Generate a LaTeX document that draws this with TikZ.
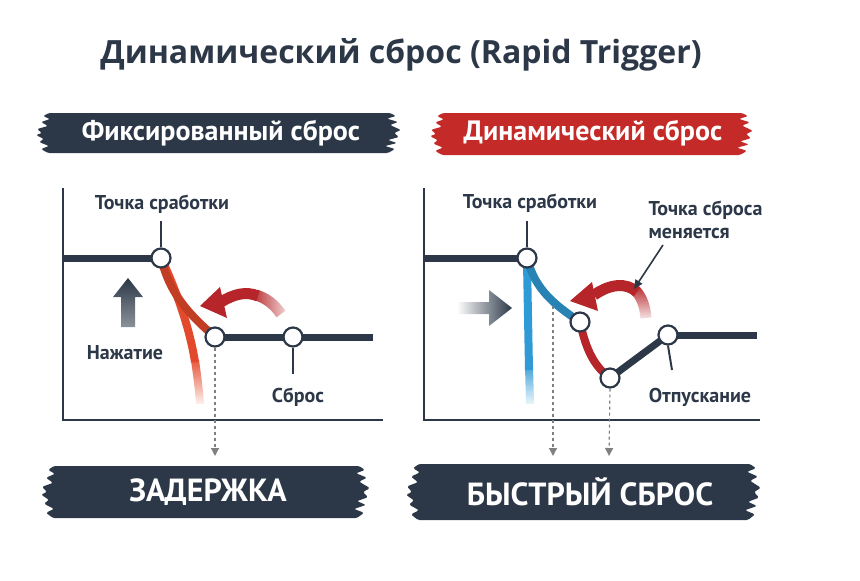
\documentclass[tikz,border=0pt]{standalone}
\usepackage{fontspec}
\setmainfont{PT Sans}
\newfontfamily\titlefont{Open Sans}
\usetikzlibrary{arrows.meta,fadings}
\definecolor{navy}{HTML}{2C3848}
\definecolor{banred}{HTML}{C42A27}
\definecolor{hotred}{HTML}{E3492B}
\definecolor{deepred}{HTML}{B52529}
\definecolor{sky}{HTML}{2F9AD5}
\tikzfading[name=fadedown, top color=transparent!0, bottom color=transparent!100]
\tikzfading[name=fadetail, left color=transparent!0, right color=transparent!80]
\tikzfading[name=fadein, left color=transparent!100, middle color=transparent!0, right color=transparent!0]
\tikzfading[name=fadebase, top color=transparent!0, middle color=transparent!0, bottom color=transparent!45]
\newcommand\brush[5]{%
	\fill[#5, rounded corners=1.5pt] (#1-#3+8, #2-#4)
		\foreach \dx/\dy in {-2/-1, 4/-0.85, -5/-0.72, 6/-0.55, -2/-0.4, 9/-0.15, 2/0, 7/0.2, -4/0.35, 5/0.5, -7/0.65, 3/0.8, -4/1}
			{ -- (#1+#3+\dx, #2+\dy*#4) }
		-- (#1-#3+8, #2+#4)
		\foreach \dx/\dy in {2/1, -5/0.8, 3/0.65, -7/0.45, -2/0.3, -10/0.1, -4/0, -9/-0.2, 2/-0.35, -5/-0.55, 4/-0.7, -3/-0.85, 3/-1}
			{ -- (#1-#3+\dx, #2+\dy*#4) }
		-- cycle;}
\begin{document}
\begin{tikzpicture}[x=1pt, y=-1pt,
		knob/.style={circle, draw=navy, fill=white, line width=2.2pt, minimum size=19pt, inner sep=0pt},
		rail/.style={navy, line width=7pt},
		stem/.style={navy, line width=2pt},
		chartaxis/.style={navy, line width=2.2pt},
		lbl/.style={navy, font=\bfseries\fontsize{20}{23}\selectfont},
		drop/.style={gray, dashed, line width=1.2pt, -{Triangle[width=8pt,length=8pt]}},
		banner/.style={text=white, font=\bfseries\fontsize{28}{30}\selectfont}]
	\useasboundingbox (0,0) rectangle (860,581);
	\node[navy, font=\titlefont\bfseries\fontsize{32}{36}\selectfont] (title) at (401,55) {Динамический сброс (Rapid Trigger)};
	\brush{219}{133}{173}{20}{navy}
	\brush{592}{134}{152}{21}{banred}
	\node[banner] (fixed) at (221,133) {Фиксированный сброс};
	\node[banner] (dynamic) at (593,133) {Динамический сброс};

	\coordinate (la) at (161,258);
	\coordinate (lb) at (215,337);
	\coordinate (lc) at (293,337);
	\draw[chartaxis] (63,188) -- (63,420) -- (383,420);
	\draw[rail] (63,258) -- (la);
	\draw[rail] (lb) -- (373,337);
	\draw[hotred, line width=8pt] (163,262) .. controls (178,295) and (190,330) .. (195,362);
	\draw[hotred, line width=8pt, path fading=fadedown] (195,360) .. controls (197,375) and (199,388) .. (200,404);
	\draw[hotred!85!black, line width=8pt] (la) .. controls (170,295) and (190,315) .. (lb);
	\node[knob] (lak) at (la) {};
	\node[knob] (lbk) at (lb) {};
	\node[knob] (lck) at (lc) {};
	\draw[stem] (lak.north) -- ++(0,-26);
	\draw[stem] (lck.south) -- ++(0,26);
	\node[lbl] (ltrig) at (162,204) {Точка сработки};
	\node[lbl] (press) at (125,353) {Нажатие};
	\node[lbl] (reset) at (298,397) {Сброс};
	\fill[navy, path fading=fadebase] (121,327) -- (121,297) -- (113,297) -- (128,278) -- (143,297) -- (135,297) -- (135,327) -- cycle;
	\draw[deepred, line width=11pt] (258,296) .. controls (246,291) and (234,294) .. (221,302);
	\draw[deepred, line width=11pt, path fading=fadetail] (256,295) .. controls (266,298) and (274,304) .. (281,314);
	\fill[deepred] (200,306) -- (220,287) -- (227,318) -- cycle;
	\coordinate (lz) at (215,456);
	\draw[drop] (lbk.south) -- (lz);
	\brush{206}{492}{155}{26}{navy}
	\node[banner, font=\bfseries\fontsize{32}{34}\selectfont] (delay) at (208,492) {ЗАДЕРЖКА};

	\coordinate (ra) at (527,258);
	\coordinate (rb) at (580,322);
	\coordinate (rc) at (610,378);
	\coordinate (rd) at (668,335);
	\coordinate (rm) at (553,306);
	\draw[chartaxis] (424,188) -- (424,420) -- (760,420);
	\draw[rail] (424,258) -- (ra);
	\draw[rail] (rd) -- (757,335);
	\draw[navy, line width=7pt] (rc) -- (rd);
	\draw[sky, line width=8pt] (527,262) -- (529,370);
	\draw[sky, line width=8pt, path fading=fadedown] (529,366) -- (530,404);
	\draw[sky!85!black, line width=8pt] (ra) .. controls (535,290) and (555,305) .. (rb);
	\draw[deepred, line width=8pt] (rb) .. controls (585,345) and (592,365) .. (rc);
	\node[knob] (rak) at (ra) {};
	\node[knob] (rbk) at (rb) {};
	\node[knob] (rck) at (rc) {};
	\node[knob] (rdk) at (rd) {};
	\draw[stem] (rak.north) -- ++(0,-26);
	\draw[stem] (rdk.south) -- (672,370);
	\node[lbl] (rtrig) at (530,203) {Точка сработки};
	\node[lbl, align=left, anchor=north west] (moves) at (645,197) {Точка сброса\\меняется};
	\node[lbl] (release) at (700,397) {Отпускание};
	\fill[navy, path fading=fadein] (457,302) -- (489,302) -- (489,290) -- (512,308) -- (489,326) -- (489,314) -- (457,314) -- cycle;
	\draw[deepred, line width=11pt] (637,292) .. controls (626,282) and (610,284) .. (594,295);
	\draw[deepred, line width=11pt, path fading=fadedown] (635,290) .. controls (641,296) and (645,305) .. (646,318);
	\fill[deepred] (570,301) -- (592,282) -- (598,311) -- cycle;
	\draw[navy, line width=1.6pt, -{Triangle[width=8pt,length=9pt]}] (663,245) -- (634,289);
	\coordinate (ry) at (553,456);
	\coordinate (rz) at (609,456);
	\draw[drop] (rm) -- (ry);
	\draw[drop] (rck.south) -- (rz);
	\brush{584}{492}{168}{28}{navy}
	\node[banner, font=\bfseries\fontsize{32}{34}\selectfont] (quick) at (590,492) {БЫСТРЫЙ СБРОС};
\end{tikzpicture}
\end{document}
